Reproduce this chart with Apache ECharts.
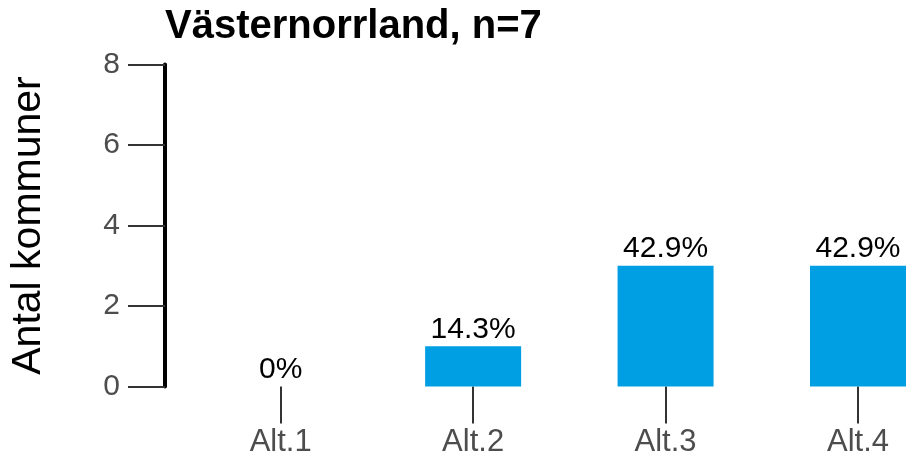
<!DOCTYPE html>
<html><head><meta charset="utf-8">
<script src="https://cdn.jsdelivr.net/npm/echarts@6/dist/echarts.min.js"></script>
<style>html,body{margin:0;padding:0;background:#fff}#c{width:918px;height:459px}</style>
</head><body><div id="c"></div>
<script>
const categories = ["Alt.1","Alt.2","Alt.3","Alt.4"];
const counts = [0,1,3,3];
const percentLabels = ["0%","14.3%","42.9%","42.9%"];
const yTicks = [0,2,4,6,8];
const titleText = "Västernorrland, n=7";
const yName = "Antal kommuner";

const font = "'Liberation Sans', Arial, sans-serif";
const chart = echarts.init(document.getElementById('c'), null, {renderer:'canvas'});
chart.setOption({
  animation:false,
  title:{text:titleText,left:165,top:7,padding:0,textStyle:{fontFamily:font,fontWeight:'bold',fontSize:40,color:'#000'}},
  grid:{left:280.7,right:60,top:64.5,bottom:72.5,containLabel:false},
  xAxis:{type:'category',data:categories,boundaryGap:false,
    axisLine:{show:false},
    axisTick:{show:true,length:37,lineStyle:{color:'#333',width:2}},
    axisLabel:{fontFamily:font,fontSize:31,color:'#4d4d4d',margin:40}},
  yAxis:{type:'value',min:yTicks[0],max:yTicks[yTicks.length-1],interval:2,offset:115.7,
    name:yName,nameLocation:'middle',nameGap:116,nameRotate:90,
    nameTextStyle:{fontFamily:font,fontSize:41,color:'#000'},
    axisLine:{show:true,lineStyle:{color:'#000',width:4}},
    axisTick:{show:true,length:37,lineStyle:{color:'#333',width:2}},
    axisLabel:{fontFamily:font,fontSize:30,color:'#4d4d4d',margin:45},
    splitLine:{show:false}},
  series:[{type:'bar',data:counts,barWidth:96,
    itemStyle:{color:'#009FE3'},
    label:{show:true,position:'top',distance:2,fontFamily:font,fontSize:30,color:'#000',
      formatter:p=>percentLabels[p.dataIndex]}}]
});
</script></body></html>
